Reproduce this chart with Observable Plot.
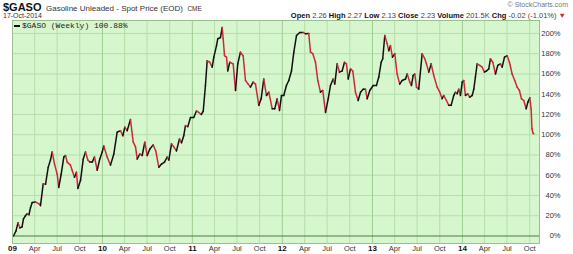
<!DOCTYPE html>
<html><head><meta charset="utf-8">
<script src="https://cdn.jsdelivr.net/npm/d3@7"></script>
<script src="https://cdn.jsdelivr.net/npm/@observablehq/plot@0.6"></script>
<style>
body{margin:0;background:#fff;}
#wrap{position:relative;width:573px;height:254px;font-family:"Liberation Sans",Arial,sans-serif;color:#222;overflow:hidden;}
.t{position:absolute;white-space:nowrap;line-height:1;}
.b{font-weight:bold;color:#111;}
.v{color:#444;}
</style></head><body><div id="wrap"></div>
<script>
// weekly performance of $GASO since Jan 2009 (time as years after 2009-01-01)
const weekT = [0.011,0.039,0.061,0.083,0.106,0.122,0.144,0.161,0.183,0.200,
0.219,0.256,0.292,0.311,0.341,0.367,0.397,0.422,0.441,0.467,
0.497,0.514,0.541,0.570,0.589,0.608,0.644,0.663,0.689,0.711,
0.726,0.756,0.786,0.811,0.837,0.859,0.886,0.911,0.941,0.970,
0.997,1.014,1.052,1.089,1.126,1.163,1.200,1.226,1.248,1.274,
1.311,1.341,1.367,1.386,1.414,1.441,1.470,1.497,1.526,1.563,
1.592,1.626,1.656,1.689,1.719,1.737,1.767,1.792,1.822,1.856,
1.878,1.903,1.922,1.948,1.978,2.014,2.044,2.070,2.097,2.119,
2.144,2.163,2.192,2.219,2.237,2.267,2.281,2.311,2.330,2.341,
2.356,2.378,2.392,2.414,2.452,2.478,2.503,2.533,2.563,2.589,
2.619,2.644,2.674,2.700,2.737,2.763,2.792,2.822,2.848,2.886,
2.914,2.941,2.967,2.989,3.014,3.044,3.070,3.100,3.126,3.156,
3.192,3.230,3.256,3.292,3.311,3.337,3.367,3.392,3.422,3.448,
3.478,3.508,3.533,3.563,3.581,3.608,3.633,3.663,3.689,3.711,
3.730,3.756,3.781,3.811,3.841,3.867,3.897,3.922,3.941,3.970,
4.008,4.044,4.070,4.097,4.114,4.137,4.163,4.181,4.200,4.222,
4.248,4.274,4.303,4.330,4.367,4.386,4.414,4.433,4.452,4.470,
4.489,4.514,4.552,4.581,4.600,4.626,4.652,4.681,4.719,4.748,
4.774,4.792,4.822,4.848,4.874,4.903,4.922,4.941,4.959,4.978,
4.997,5.014,5.033,5.059,5.081,5.108,5.126,5.144,5.163,5.192,
5.219,5.244,5.267,5.292,5.311,5.337,5.367,5.392,5.422,5.441,
5.467,5.497,5.522,5.552,5.581,5.608,5.633,5.656,5.681,5.708,
5.726,5.748,5.763,5.772,5.781,5.792];
const pctChange = [0,5,13,8,9,17,20,22,21,28,
33,33.5,32,30,51.5,51,68,75,83,71,
61,48,61,78,79.5,73,70,65,58,63,
47,55,76,83,75,73,73,78,65,76,
83,89,78,70,81,102.5,104,99,107.5,104,
115,93,88,76,81,79.5,92.6,79.5,86,90,
84,68,71,73,78,75,91,88,84,96,
92,99,109,108,117,117,123.5,122,120,123,
148.6,173,171.6,166.7,176.6,188,194.8,196,206,194.8,
178,176.6,163,171.6,170,143.7,170,181.5,178,153.6,
150,147,152,150,129,135.5,155,138.8,142,125.6,
125.6,135.5,124,138.8,138.8,148.6,153.6,163,181.5,198,
201,201,199.7,200,181.5,180,171.6,153.6,142,143.7,
122,135.5,148.6,155,150,170,161.8,163,171.6,170,
155,165,163,142,133.8,142,145,145,135.5,143.7,
148.6,148.6,157,171.6,175,198,190,183,188,176.6,
180,160,150,153.6,155,160,152,148.6,158.5,160,
147,145,180,175,170,161.8,170,158.5,147,142,
135.5,138.8,133.8,129,129,138.8,142,140.4,145,138.8,
152,153.6,138.8,140.4,137,138.8,145,157,170,168.4,
166.7,161.8,163,165,175,171.6,160,168.4,170,166.7,
176.6,178,171.6,160,153.6,147,143.7,135.5,133.8,125.6,
132,136.5,125.6,106,102,100.88];
const yTicks = [0,20,40,60,80,100,120,140,160,180,200];
const yearLabels = ["09","10","11","12","13","14"];
const monthLabels = ["Apr","Jul","Oct"];

const DAY = 864e5;
const toDate = t => new Date(Date.UTC(2009,0,1) + t*365.25*DAY);
const pts = weekT.map((t,i) => ({date: toDate(t), v: pctChange[i]}));
const segs = [];
for (let i = 1; i < pts.length; i++) {
  segs.push({d0: pts[i-1].date, d1: pts[i].date, v0: pts[i-1].v, v1: pts[i].v,
    c: pts[i].v >= pts[i-1].v ? "#111111" : "#cc2a3a"});
}
const yearDates = yearLabels.map((s,i) => new Date(Date.UTC(2009+i,0,1)));
const quarterDates = [];
for (let y = 2009; y <= 2014; y++) for (let m = 3; m <= 9; m += 3) quarterDates.push(new Date(Date.UTC(y,m,1)));

const bg = "#d6f6cd", grid = "#b7deab", gridYear = "#9fce92";

const chart = Plot.plot({
  width: 573, height: 254,
  marginLeft: 12, marginRight: 34, marginTop: 20, marginBottom: 11,
  style: {fontFamily: '"Liberation Sans", Arial, sans-serif', fontSize: "7.5px", color: "#333", background: "transparent", overflow: "visible"},
  x: {type: "time", domain: [toDate(0), toDate(5.856)]},
  y: {domain: [-7.4, 212.8]},
  color: {type: "identity"},
  marks: [
    Plot.frame({fill: bg, stroke: null}),
    Plot.ruleY(yTicks.filter(d => d !== 0), {stroke: grid, strokeWidth: 1}),
    Plot.ruleX(quarterDates, {stroke: grid, strokeWidth: 1}),
    Plot.ruleX(yearDates.slice(1), {stroke: gridYear, strokeWidth: 1}),
    Plot.ruleY([0], {stroke: "#4d7d44", strokeWidth: 1.2}),
    Plot.link(segs, {x1: "d0", y1: "v0", x2: "d1", y2: "v1", stroke: "c", strokeWidth: 1.5, strokeLinecap: "round"}),
    Plot.frame({stroke: "#9cbf92", strokeWidth: 1}),
    Plot.axisX(yearDates, {anchor: "bottom", tickSize: 0, tickPadding: 2, fontWeight: "bold", fill: "#111", fontSize: 8,
      tickFormat: d => yearLabels[d.getUTCFullYear() - 2009]}),
    Plot.axisX(quarterDates, {anchor: "bottom", tickSize: 0, tickPadding: 2, fill: "#333",
      tickFormat: d => monthLabels[d.getUTCMonth()/3 - 1]}),
    Plot.axisY(yTicks, {anchor: "right", tickSize: 0, tickPadding: 21, textAnchor: "end", fill: "#333",
      tickFormat: d => d + "%"})
  ]
});
const wrap = document.getElementById("wrap");
wrap.appendChild(chart);

function addText(html, style) {
  const el = document.createElement("div");
  el.className = "t";
  el.innerHTML = html;
  Object.assign(el.style, style);
  wrap.appendChild(el);
}
addText('<span class="b" style="font-size:11px">$GASO</span> <span style="font-size:8px;color:#333">Gasoline Unleaded - Spot Price (EOD)</span> <span style="font-size:6.5px;color:#333">CME</span>', {left: "3px", top: "0px", lineHeight: "11px"});
addText('17-Oct-2014', {left: "3px", top: "12px", fontSize: "7px", color: "#333"});
addText('© StockCharts.com', {right: "5px", top: "1px", fontSize: "7px", color: "#777"});
addText('<span class="b">Open</span> <span class="v">2.26</span> <span class="b">High</span> <span class="v">2.27</span> <span class="b">Low</span> <span class="v">2.13</span> <span class="b">Close</span> <span class="v">2.23</span> <span class="b">Volume</span> <span class="v">201.5K</span> <span class="b">Chg</span> <span class="v">-0.02 (-1.01%)</span> <span style="color:#cc2a3a">▼</span>', {right: "7px", top: "11.5px", fontSize: "7.5px"});
addText('<span style="display:inline-block;width:6px;height:2px;background:#111;vertical-align:middle;margin-right:2px"></span>$GASO (Weekly) 100.88%', {left: "14px", top: "22px", fontSize: "8px", fontFamily: '"Liberation Mono","DejaVu Sans Mono",monospace', color: "#222"});
</script></body></html>
